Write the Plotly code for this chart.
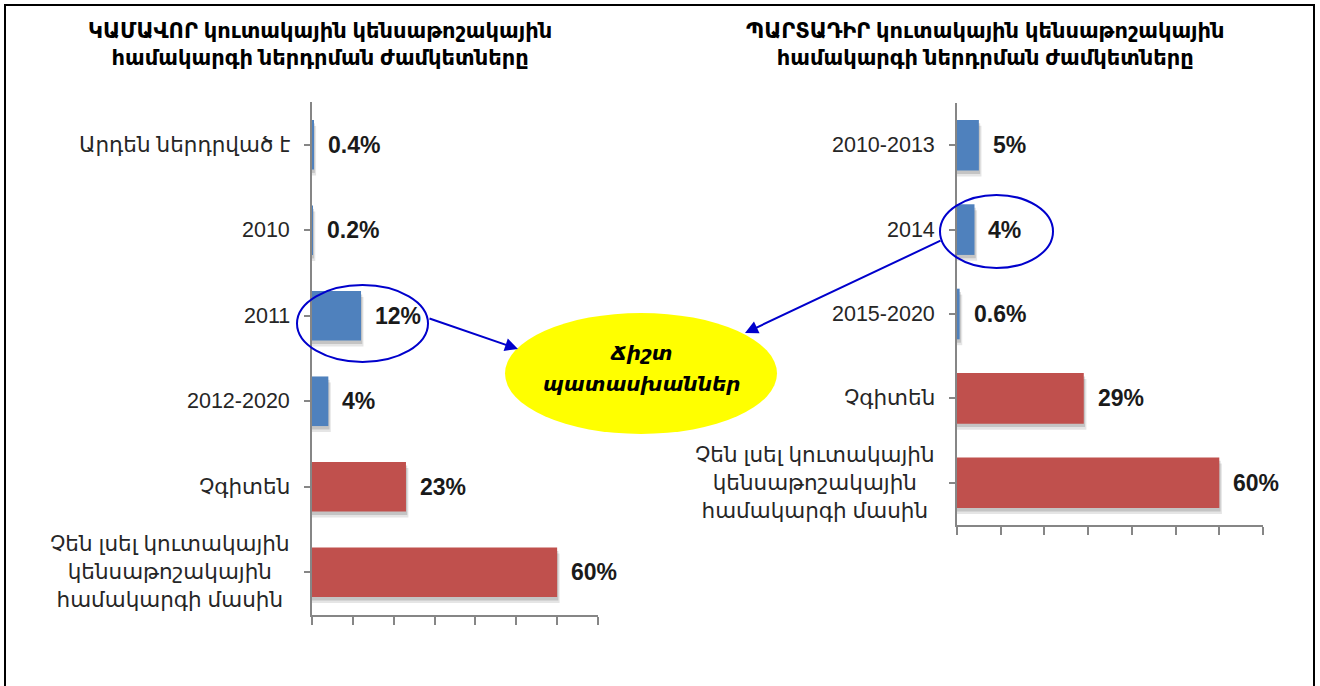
import plotly.graph_objects as go

W, H = 1320, 686

# ---- data ----
left_title = "ԿԱՄԱՎՈՐ կուտակային կենսաթոշակային<br>համակարգի ներդրման ժամկետները"
right_title = "ՊԱՐՏԱԴԻՐ կուտակային կենսաթոշակային<br>համակարգի ներդրման ժամկետները"

left_categories = ["Արդեն ներդրված է", "2010", "2011", "2012-2020", "Չգիտեն",
                   "Չեն լսել կուտակային<br>կենսաթոշակային<br>համակարգի մասին"]
left_values = [0.4, 0.2, 12, 4, 23, 60]
left_labels = ["0.4%", "0.2%", "12%", "4%", "23%", "60%"]
left_colors = ["#4F81BD", "#4F81BD", "#4F81BD", "#4F81BD", "#C0504D", "#C0504D"]

right_categories = ["2010-2013", "2014", "2015-2020", "Չգիտեն",
                    "Չեն լսել կուտակային<br>կենսաթոշակային<br>համակարգի մասին"]
right_values = [5, 4, 0.6, 29, 60]
right_labels = ["5%", "4%", "0.6%", "29%", "60%"]
right_colors = ["#4F81BD", "#4F81BD", "#4F81BD", "#C0504D", "#C0504D"]

x_ticks = [0, 10, 20, 30, 40, 50, 60, 70]
callout_lines = ["Ճիշտ", "պատասխաններ"]

FONT = "Liberation Sans, DejaVu Sans, sans-serif"
AXC = "#868686"

def px(x):
    return x / W

def py(y):
    return 1 - y / H

fig = go.Figure()

def add_panel(cats, vals, labels, colors, xa, ya, width):
    idx = list(range(len(cats)))
    # soft drop shadow
    fig.add_trace(go.Bar(
        y=idx, x=[v + 0.6 for v in vals], orientation="h",
        width=width, offset=-width / 2 + 0.07,
        marker=dict(color="rgba(0,0,0,0.10)", line=dict(width=0)),
        xaxis=xa, yaxis=ya, hoverinfo="skip", showlegend=False))
    fig.add_trace(go.Bar(
        y=idx, x=[v + 0.3 for v in vals], orientation="h",
        width=width, offset=-width / 2 + 0.04,
        marker=dict(color="rgba(0,0,0,0.14)", line=dict(width=0)),
        xaxis=xa, yaxis=ya, hoverinfo="skip", showlegend=False))
    fig.add_trace(go.Bar(
        y=idx, x=vals, orientation="h",
        width=width, offset=-width / 2,
        marker=dict(color=colors, line=dict(width=0)),
        xaxis=xa, yaxis=ya, showlegend=False))
    xr = "x" if xa == "x" else xa
    yr = "y" if ya == "y" else ya
    for i, (v, lab) in enumerate(zip(vals, labels)):
        fig.add_annotation(x=v, y=i, xref=xr, yref=yr, text="<b>" + lab + "</b>",
                           showarrow=False, xanchor="left", xshift=12,
                           font=dict(family=FONT, size=23, color="#1a1a1a"))
    for i, c in enumerate(cats):
        fig.add_annotation(x=0, y=i, xref=xr + " domain", yref=yr, text=c,
                           showarrow=False, xanchor="right", xshift=-20, align="center",
                           font=dict(family=FONT, size=21.5, color="#262626"))

add_panel(left_categories, left_values, left_labels, left_colors, "x", "y", 0.58)
add_panel(right_categories, right_values, right_labels, right_colors, "x2", "y2", 0.6)

axis_common = dict(showgrid=False, zeroline=False, showline=True, linecolor=AXC, linewidth=1.5,
                   ticks="outside", tickcolor=AXC, tickwidth=1.5, fixedrange=True)

fig.update_layout(
    width=W, height=H, margin=dict(l=0, r=0, t=0, b=0),
    paper_bgcolor="white", plot_bgcolor="white", barmode="overlay",
    xaxis=dict(domain=[px(312), px(598)], anchor="y", range=[0, 70], tickvals=x_ticks,
               showticklabels=False, ticklen=8, **axis_common),
    yaxis=dict(domain=[py(615), py(102)], anchor="x", range=[5.5, -0.5],
               tickvals=list(range(len(left_categories))), showticklabels=False,
               tickson="boundaries", ticklen=6, **axis_common),
    xaxis2=dict(domain=[px(957), px(1263)], anchor="y2", range=[0, 70], tickvals=x_ticks,
                showticklabels=False, ticklen=8, **axis_common),
    yaxis2=dict(domain=[py(525), py(103)], anchor="x2", range=[4.5, -0.5],
                tickvals=list(range(len(right_categories))), showticklabels=False,
                tickson="boundaries", ticklen=6, **axis_common),
)

# titles
fig.add_annotation(x=px(320), y=py(44), xref="paper", yref="paper", text="<b>" + left_title + "</b>",
                   showarrow=False, align="center", xanchor="center", yanchor="middle",
                   font=dict(family=FONT, size=21, color="black"))
fig.add_annotation(x=px(985), y=py(44), xref="paper", yref="paper", text="<b>" + right_title + "</b>",
                   showarrow=False, align="center", xanchor="center", yanchor="middle",
                   font=dict(family=FONT, size=21, color="black"))

# frame
fig.add_shape(type="rect", xref="paper", yref="paper", x0=px(5), x1=px(1314), y0=py(720), y1=py(5),
              line=dict(color="black", width=2), fillcolor="rgba(0,0,0,0)")

# yellow callout ellipse
fig.add_shape(type="circle", xref="paper", yref="paper", x0=px(505), x1=px(777), y0=py(434), y1=py(313),
              fillcolor="#FFFF00", line=dict(width=0), layer="below")
for line_text, yy in zip(callout_lines, [353, 384]):
    fig.add_annotation(x=px(641), y=py(yy), xref="paper", yref="paper",
                       text="<b><i>" + line_text + "</i></b>", showarrow=False,
                       xanchor="center", yanchor="middle",
                       font=dict(family=FONT, size=20, color="black"))

# blue ellipses
fig.add_shape(type="circle", xref="paper", yref="paper", x0=px(297), x1=px(428), y0=py(362), y1=py(285),
              line=dict(color="#0000CC", width=2))
fig.add_shape(type="circle", xref="paper", yref="paper", x0=px(940), x1=px(1053), y0=py(268), y1=py(195),
              line=dict(color="#0000CC", width=2))

# arrows (tail offsets in pixels relative to head)
fig.add_annotation(x=px(518), y=py(349), xref="paper", yref="paper", ax=-90, ay=-31,
                   axref="pixel", ayref="pixel", text="", showarrow=True, arrowhead=2,
                   arrowsize=1.3, arrowwidth=2, arrowcolor="#0000CC")
fig.add_annotation(x=px(745), y=py(333), xref="paper", yref="paper", ax=197, ay=-93,
                   axref="pixel", ayref="pixel", text="", showarrow=True, arrowhead=2,
                   arrowsize=1.3, arrowwidth=2, arrowcolor="#0000CC")

fig.write_html("out.html", config={"displayModeBar": False},
               post_script="document.body.style.margin='0';")
